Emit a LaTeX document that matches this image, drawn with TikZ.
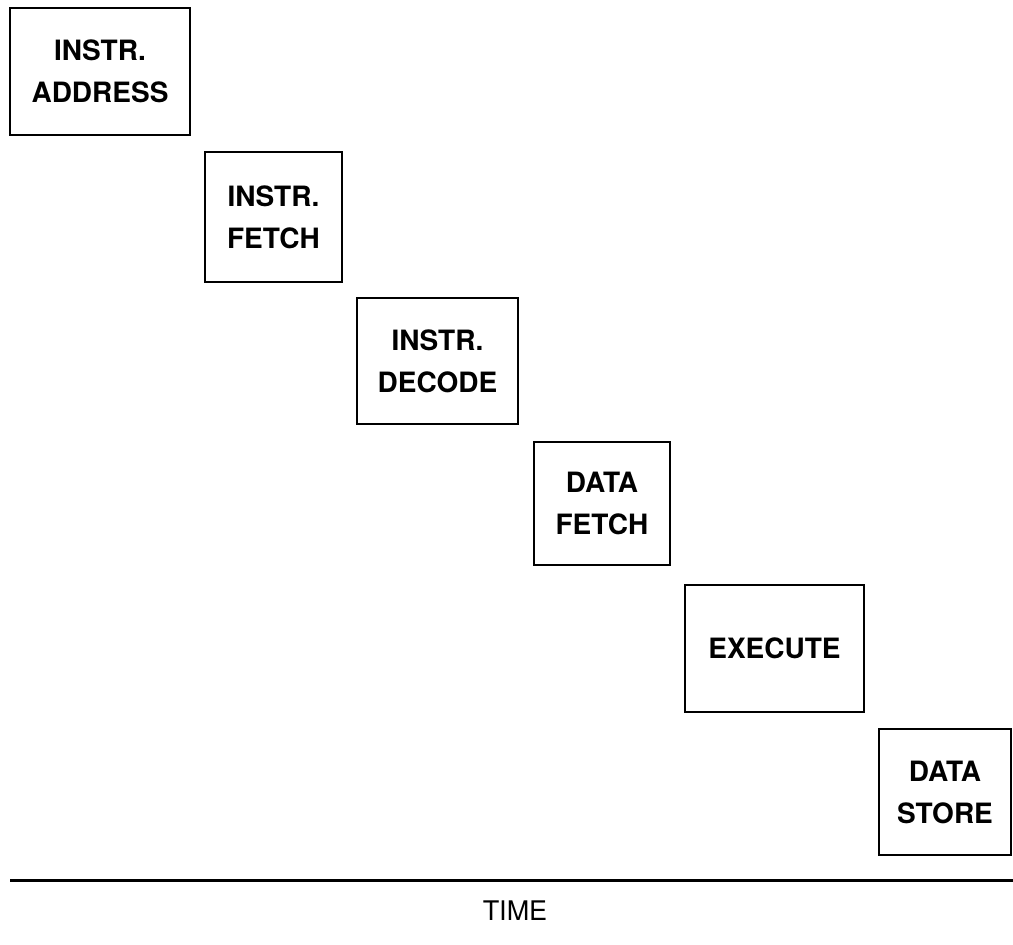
\documentclass[tikz,border=0pt]{standalone}
\usepackage{fontspec}
\setmainfont{TeX Gyre Heros}
\usetikzlibrary{positioning}
\begin{document}
\begin{tikzpicture}[x=1pt, y=-1pt, stage/.style={draw, line width=2.8pt, inner sep=0pt, outer sep=0pt, align=center, font=\fontsize{28}{42}\selectfont\bfseries}]
\useasboundingbox (0,0) rectangle (1013,945);
\node[stage, minimum width=180pt, minimum height=127pt] (ia) at (100,71.5) {INSTR.\\ADDRESS};
\node[stage, minimum width=137pt, minimum height=130pt, below right=17pt and 15pt of ia] (if) {INSTR.\\FETCH};
\node[stage, minimum width=161pt, minimum height=126pt, below right=16pt and 15pt of if] (id) {INSTR.\\DECODE};
\node[stage, minimum width=136pt, minimum height=123pt, below right=18pt and 16pt of id] (df) {DATA\\FETCH};
\node[stage, minimum width=179pt, minimum height=127pt, below right=20pt and 15pt of df] (ex) {EXECUTE};
\node[stage, minimum width=132pt, minimum height=126pt, below right=17pt and 15pt of ex] (ds) {DATA\\STORE};
% time axis
\coordinate (t0) at (10,880);
\coordinate (t1) at (1013,880);
\draw[line width=3pt] (t0) -- (t1);
\node[font=\fontsize{27}{32}\selectfont] (time) at (515,911) {TIME};
\end{tikzpicture}
\end{document}
